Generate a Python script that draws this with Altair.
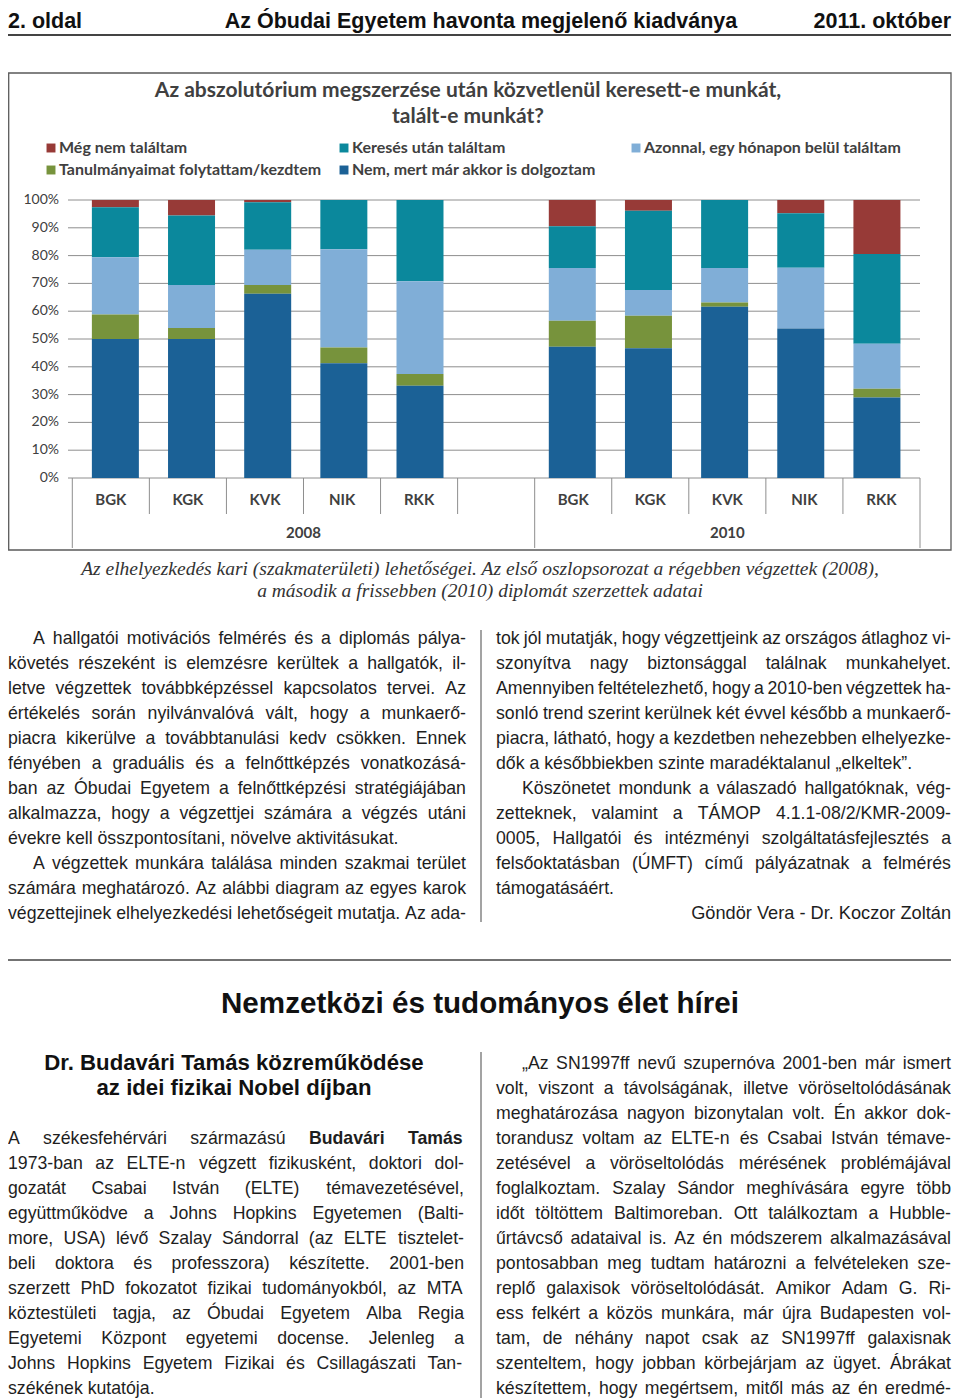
import altair as alt
import pandas as pd

# ---------------- chart data ----------------
years = ["2008", "2010"]
faculties = ["BGK", "KGK", "KVK", "NIK", "RKK"]
series = [
    "Még nem találtam",
    "Keresés után találtam",
    "Azonnal, egy hónapon belül találtam",
    "Tanulmányaimat folytattam/kezdtem",
    "Nem, mert már akkor is dolgoztam",
]
colors = ["#973a37", "#0b889c", "#80aed7", "#77933c", "#1b6196"]

# percentages, bars in order 2008 BGK..RKK, 2010 BGK..RKK
meg_nem = [2.6, 5.6, 0.8, 0.0, 0.0, 9.4, 3.9, 0.0, 4.8, 19.4]
kereses = [18.0, 25.0, 17.1, 17.7, 29.2, 15.1, 28.5, 24.5, 19.6, 32.3]
azonnal = [20.6, 15.4, 12.7, 35.4, 33.4, 18.9, 9.2, 12.4, 21.8, 16.2]
tanulmanyok = [8.8, 4.0, 3.1, 5.6, 4.2, 9.4, 11.7, 1.5, 0.0, 3.1]
nem_dolgoztam = [50.0, 50.0, 66.3, 41.3, 33.2, 47.2, 46.7, 61.6, 53.8, 29.0]

y_ticks = [0, 10, 20, 30, 40, 50, 60, 70, 80, 90, 100]

chart_title = ["Az abszolutórium megszerzése után közvetlenül keresett-e munkát,",
               "talált-e munkát?"]

# ---------------- page texts ----------------
header_left = "2. oldal"
header_mid = "Az Óbudai Egyetem havonta megjelenő kiadványa"
header_right = "2011. október"

caption = ["Az elhelyezkedés kari (szakmaterületi) lehetőségei. Az első oszlopsorozat a régebben végzettek (2008),",
           "a második a frissebben (2010) diplomát szerzettek adatai"]

left_p1 = ["A hallgatói motivációs felmérés és a diplomás pálya-",
           "követés részeként is elemzésre kerültek a hallgatók, il-",
           "letve végzettek továbbképzéssel kapcsolatos tervei. Az",
           "értékelés során nyilvánvalóvá vált, hogy a munkaerő-",
           "piacra kikerülve a továbbtanulási kedv csökken. Ennek",
           "fényében a graduális és a felnőttképzés vonatkozásá-",
           "ban az Óbudai Egyetem a felnőttképzési stratégiájában",
           "alkalmazza, hogy a végzettjei számára a végzés utáni",
           "évekre kell összpontosítani, növelve aktivitásukat."]
left_p2 = ["A végzettek munkára találása minden szakmai terület",
           "számára meghatározó. Az alábbi diagram az egyes karok",
           "végzettejinek elhelyezkedési lehetőségeit mutatja. Az ada-"]
right_p1 = ["tok jól mutatják, hogy végzettjeink az országos átlaghoz vi-",
            "szonyítva nagy biztonsággal találnak munkahelyet.",
            "Amennyiben feltételezhető, hogy a 2010-ben végzettek ha-",
            "sonló trend szerint kerülnek két évvel később a munkaerő-",
            "piacra, látható, hogy a kezdetben nehezebben elhelyezke-",
            "dők a későbbiekben szinte maradéktalanul „elkeltek”."]
right_p2 = ["Köszönetet mondunk a válaszadó hallgatóknak, vég-",
            "zetteknek, valamint a TÁMOP 4.1.1-08/2/KMR-2009-",
            "0005, Hallgatói és intézményi szolgáltatásfejlesztés a",
            "felsőoktatásban (ÚMFT) című pályázatnak a felmérés",
            "támogatásáért."]
signature = "Göndör Vera - Dr. Koczor Zoltán"

section_title = "Nemzetközi és tudományos élet hírei"
sub_title = ["Dr. Budavári Tamás közreműködése", "az idei fizikai Nobel díjban"]
bl_first = "A székesfehérvári származású"
bl_first_bold = "Budavári Tamás"
bl_rest = ["1973-ban az ELTE-n végzett fizikusként, doktori dol-",
           "gozatát Csabai István (ELTE) témavezetésével,",
           "együttműködve a Johns Hopkins Egyetemen (Balti-",
           "more, USA) lévő Szalay Sándorral (az ELTE tisztelet-",
           "beli doktora és professzora) készítette. 2001-ben",
           "szerzett PhD fokozatot fizikai tudományokból, az MTA",
           "köztestületi tagja, az Óbudai Egyetem Alba Regia",
           "Egyetemi Központ egyetemi docense. Jelenleg a",
           "Johns Hopkins Egyetem Fizikai és Csillagászati Tan-",
           "székének kutatója."]
br_lines = ["„Az SN1997ff nevű szupernóva 2001-ben már ismert",
            "volt, viszont a távolságának, illetve vöröseltolódásának",
            "meghatározása nagyon bizonytalan volt. Én akkor dok-",
            "torandusz voltam az ELTE-n és Csabai István témave-",
            "zetésével a vöröseltolódás mérésének problémájával",
            "foglalkoztam. Szalay Sándor meghívására egyre több",
            "időt töltöttem Baltimoreban. Ott találkoztam a Hubble-",
            "űrtávcső adataival is. Az én módszerem alkalmazásával",
            "pontosabban meg tudtam határozni a felvételeken sze-",
            "replő galaxisok vöröseltolódását. Amikor Adam G. Ri-",
            "ess felkért a közös munkára, már újra Budapesten vol-",
            "tam, de néhány napot csak az SN1997ff galaxisnak",
            "szenteltem, hogy jobban körbejárjam az ügyet. Ábrákat",
            "készítettem, hogy megértsem, mitől más az én eredmé-"]

# ---------------- layout helpers ----------------
W, H = 944, 1392
RIGHT = 951          # right edge of the page content (page pixels)
BODY = "Liberation Sans, Arial, Helvetica, sans-serif"
CHART_FONT = "Lato, Open Sans, sans-serif"
SERIF = "Liberation Serif, Times New Roman, serif"
INK = "#1e1e1e"
GREY = "#404040"
BODY_SIZE = 17.7


def px(v):
    return v - 8


one = pd.DataFrame({"k": [0]})


def txt(text, x, y, size=BODY_SIZE, weight="normal", style="normal", font=BODY,
        align="left", color=INK, lh=25, baseline="alphabetic"):
    return alt.Chart(one).mark_text(
        text=text, align=align, baseline=baseline, font=font, fontSize=size,
        fontWeight=weight, fontStyle=style, color=color, lineHeight=lh,
    ).encode(x=alt.value(px(x)), y=alt.value(px(y)))


def line(x1, y1, x2, y2, color="#555555", width=1.0):
    return alt.Chart(one).mark_rule(color=color, strokeWidth=width).encode(
        x=alt.value(px(x1)), y=alt.value(px(y1)),
        x2=alt.value(px(x2)), y2=alt.value(px(y2)))


# advance widths (1/1000 em) of the Arial-metric body font, used for justifying
def _table(groups):
    t = {}
    for chars, w in groups:
        for ch in chars:
            t[ch] = w
    return t


REG = _table([("ijl", 222), (" ,.:;!/ftIíÍ", 278), ("-()r„”", 333),
              ("cksvxyzJ", 500), ("abdeghnopquáéóöőúüű0123456789?L", 556),
              ("FTZ", 611), ("ABEKPSVXYÁÉ", 667), ("CDHNRUÚÜŰw", 722),
              ("GOQÓÖŐ", 778), ("mM", 833), ("W", 944)])
BLD = _table([(" ,.:;/iljIíÍ", 278), ("-()tf„”", 333), ("r", 389), ("z", 500),
              ("acesvxykáéJ0123456789", 556), ("bdghnopquóöőúüűFTLZ", 611),
              ("EPSVXYÉ", 667), ("ABCDHKNRUÁÚÜŰ", 722), ("GOQÓÖŐw", 778),
              ("M", 833), ("m", 889), ("W", 944)])


def word_width(word, bold):
    t = BLD if bold else REG
    return sum(t.get(ch, 556) for ch in word) * BODY_SIZE / 1000


word_rows = []


def block(lines, x0, x1, y0, indent=0, justify_last=False):
    """lines: list of strings or lists of (word, bold) tokens; justified layout."""
    for i, ln in enumerate(lines):
        toks = [(w, False) for w in ln.split(" ")] if isinstance(ln, str) else ln
        start = x0 + (indent if i == 0 else 0)
        widths = [word_width(w, b) for w, b in toks]
        last = i == len(lines) - 1
        space = REG[" "] * BODY_SIZE / 1000
        if (not last or justify_last) and len(toks) > 1:
            space = (x1 - start - sum(widths)) / (len(toks) - 1)
        x = start
        for (w, b), wd in zip(toks, widths):
            word_rows.append({"word": w, "x": px(x), "y": px(y0 + 25 * i), "bold": b})
            x += wd + space


block(left_p1, 8, 466, 644, indent=25)
block(left_p2, 8, 466, 869, indent=25, justify_last=True)
block(right_p1, 496, RIGHT, 644)
block(right_p2, 496, RIGHT, 794, indent=26)
bl_tokens = [(w, False) for w in bl_first.split(" ")] + [(w, True) for w in bl_first_bold.split(" ")]
block([bl_tokens] + bl_rest, 8, 464, 1144)
block(br_lines, 496, RIGHT, 1069, indent=26, justify_last=True)
words_df = pd.DataFrame(word_rows)

# ---------------- chart tables ----------------
n_slots = 2 * len(faculties) + 1
group_start = [0, len(faculties) + 1]
group_end = [len(faculties) + 1, n_slots]

series_values = [meg_nem, kereses, azonnal, tanulmanyok, nem_dolgoztam]
rows, lab_rows = [], []
for b in range(len(years) * len(faculties)):
    yi, fi = divmod(b, len(faculties))
    pos = group_start[yi] + fi + 0.5
    lab_rows.append({"pos": pos, "fac": faculties[fi]})
    for si, (s, vals) in enumerate(zip(series, series_values)):
        if vals[b] > 0:
            rows.append({"pos": pos, "series": s, "value": vals[b],
                         "rank": len(series) - si})
bars_df = pd.DataFrame(rows)
lab_df = pd.DataFrame(lab_rows)
year_df = pd.DataFrame({"year": years,
                        "pos": [(a + e) / 2 for a, e in zip(group_start, group_end)]})
tick_df = pd.DataFrame({"tick": y_ticks, "label": [f"{t}%" for t in y_ticks]})
long_sep = sorted(set(group_start + group_end))
short_sep = [i for i in range(n_slots + 1) if i not in long_sep]
short_df = pd.DataFrame({"sep": short_sep})
long_df = pd.DataFrame({"sep": long_sep})

xscale = alt.Scale(domain=[0, n_slots], range=[px(72.3), px(920)], nice=False, zero=False)
yscale = alt.Scale(domain=[0, 100], range=[px(478), px(200)], nice=False)
cscale = alt.Scale(domain=series, range=colors)

layers = []

# header
layers.append(txt(header_left, 8, 28, size=21.5, weight="bold", color="#111111"))
layers.append(txt(header_mid, 481, 28, size=21.5, weight="bold", align="center", color="#111111"))
layers.append(txt(header_right, RIGHT, 28, size=21.5, weight="bold", align="right", color="#111111"))
layers.append(line(8, 35, RIGHT, 35, color="#444444", width=2))

# chart frame
layers.append(alt.Chart(one).mark_rect(filled=False, stroke="#5a5a5a", strokeWidth=1.3).encode(
    x=alt.value(px(8.7)), x2=alt.value(px(RIGHT)), y=alt.value(px(73)), y2=alt.value(px(550))))
layers.append(txt(chart_title, 468, 96.5, size=21, weight="bold", font=CHART_FONT,
                  align="center", color=GREY, lh=26))

# legend
leg_x = [51, 344, 636]
leg_y = [148, 170]
for i, (s, c) in enumerate(zip(series, colors)):
    r, k = divmod(i, 3)
    layers.append(alt.Chart(one).mark_square(size=80, color=c, opacity=1).encode(
        x=alt.value(px(leg_x[k])), y=alt.value(px(leg_y[r]))))
    layers.append(txt(s, leg_x[k] + 8, leg_y[r], size=16, weight="bold", font=CHART_FONT,
                      color=GREY, baseline="middle"))

# gridlines + y labels
layers.append(alt.Chart(tick_df).mark_rule(color="#8e8e8e", strokeWidth=1).encode(
    y=alt.Y("tick:Q", scale=yscale, axis=None),
    x=alt.value(px(68)), x2=alt.value(px(920))))
layers.append(alt.Chart(tick_df).mark_text(align="right", baseline="middle", font=CHART_FONT,
                                           fontSize=14, color=GREY).encode(
    y=alt.Y("tick:Q", scale=yscale, axis=None), x=alt.value(px(59)), text="label:N"))

# bars
layers.append(alt.Chart(bars_df).mark_bar(size=47).encode(
    x=alt.X("pos:Q", scale=xscale, axis=None),
    y=alt.Y("value:Q", stack="zero", scale=yscale, axis=None),
    color=alt.Color("series:N", scale=cscale, legend=None),
    order=alt.Order("rank:Q", sort="ascending")))

# category axis
layers.append(alt.Chart(short_df).mark_rule(color="#8e8e8e", strokeWidth=1).encode(
    x=alt.X("sep:Q", scale=xscale, axis=None), y=alt.value(px(478)), y2=alt.value(px(514))))
layers.append(alt.Chart(long_df).mark_rule(color="#8e8e8e", strokeWidth=1).encode(
    x=alt.X("sep:Q", scale=xscale, axis=None), y=alt.value(px(478)), y2=alt.value(px(548))))
layers.append(alt.Chart(lab_df).mark_text(baseline="middle", font=CHART_FONT, fontSize=15,
                                          fontWeight="bold", color=GREY).encode(
    x=alt.X("pos:Q", scale=xscale, axis=None), y=alt.value(px(500)), text="fac:N"))
layers.append(alt.Chart(year_df).mark_text(baseline="middle", font=CHART_FONT, fontSize=15,
                                           fontWeight="bold", color=GREY).encode(
    x=alt.X("pos:Q", scale=xscale, axis=None), y=alt.value(px(533)), text="year:N"))

# caption
layers.append(txt(caption, 480, 575, size=19.5, style="italic", font=SERIF, align="center",
                  color="#333333", lh=22))

# justified body text
for bold in (False, True):
    layers.append(alt.Chart(words_df).transform_filter(
        "datum.bold" if bold else "!datum.bold").mark_text(
        align="left", baseline="alphabetic", font=BODY, fontSize=BODY_SIZE,
        fontWeight="bold" if bold else "normal", color=INK).encode(
        x=alt.X("x:Q", scale=None, axis=None), y=alt.Y("y:Q", scale=None, axis=None),
        text="word:N"))

layers.append(txt(signature, RIGHT, 919, align="right", size=18.2))
layers.append(line(481, 630, 481, 922, color="#666666", width=1.2))

# separator and lower section
layers.append(line(8, 960, RIGHT, 960, color="#444444", width=1.5))
layers.append(txt(section_title, 480, 1013, size=29.6, weight="bold", align="center", color="#111111"))
layers.append(txt(sub_title, 234, 1070, size=22.2, weight="bold", align="center", color="#111111"))
layers.append(line(481, 1052, 481, 1398, color="#666666", width=1.2))

chart = alt.layer(*layers).resolve_scale(x="independent", y="independent").properties(
    width=W, height=H, padding=0,
    autosize=alt.AutoSizeParams(type="none"),
    background="white",
).configure_view(stroke=None)

chart.save("out.html", embed_options={"renderer": "svg", "actions": False})
